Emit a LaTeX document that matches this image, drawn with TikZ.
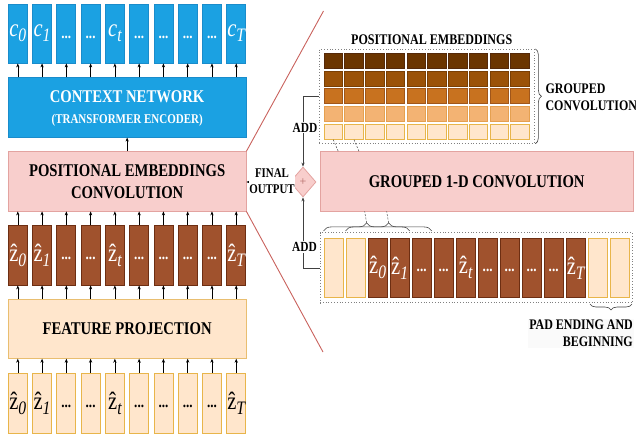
\documentclass[tikz,border=0pt]{standalone}
\usepackage{fontspec}
\setmainfont{Liberation Serif}
\newfontfamily\cf[FakeStretch=0.82]{Liberation Serif}
\usetikzlibrary{shapes.geometric,decorations.pathreplacing,arrows.meta,calc}
\definecolor{cblue}{HTML}{1BA1E2}
\definecolor{cblueb}{HTML}{1A8CCB}
\definecolor{cpink}{HTML}{F8CECC}
\definecolor{cpinkb}{HTML}{E3A3A0}
\definecolor{cbrown}{HTML}{A0522D}
\definecolor{cbrownb}{HTML}{6D2E12}
\definecolor{cpeach}{HTML}{FFE6CC}
\definecolor{cpeachb}{HTML}{E8B54A}
\definecolor{cfpb}{HTML}{E9BE70}
\definecolor{cline}{HTML}{C9625D}
\definecolor{rA}{HTML}{6B3500}\definecolor{rAb}{HTML}{55290A}
\definecolor{rB}{HTML}{9B5208}\definecolor{rBb}{HTML}{7A3F04}
\definecolor{rC}{HTML}{C8721F}\definecolor{rCb}{HTML}{A0561A}
\definecolor{rD}{HTML}{F3B373}\definecolor{rDb}{HTML}{E5A050}
\definecolor{rE}{HTML}{FFE6CC}\definecolor{rEb}{HTML}{E8B54A}
\newcommand\fs[1]{\fontsize{#1}{#1}\selectfont}
\newcommand\clab[1]{{\cf\fs{25}\itshape c\raisebox{-0.2em}{\fs{19}#1}}}
\newcommand\zlab[1]{{\cf\fs{25}\^{z}\raisebox{-0.2em}{\fs{19}\itshape #1}}}
\newcommand\dts{{\cf\bfseries\fs{16}...}}
\tikzset{
  colbox/.style={draw, line width=0.8pt, inner sep=0pt, minimum width=19pt, minimum height=59pt},
  cbox/.style={colbox, fill=cblue, draw=cblueb, text=white},
  dbox/.style={colbox, fill=cbrown, draw=cbrownb, text=white, minimum height=60pt},
  lbox/.style={colbox, fill=cpeach, draw=cpeachb},
  bigbox/.style={draw, line width=0.8pt, inner sep=0pt, minimum width=237.7pt, minimum height=59.3pt},
  ttl/.style={font=\cf\bfseries\fontsize{17.9}{22}\selectfont, align=center},
  arr/.style={-{Stealth[length=4pt,width=3.2pt]}, line width=0.6pt, black},
  gcell/.style={draw, line width=0.8pt, inner sep=0pt, minimum width=18.5pt, minimum height=15pt},
  frm/.style={draw=gray, dotted, line width=0.8pt, inner sep=0pt},
  brc/.style={decorate, decoration={brace, amplitude=#1}, line width=0.6pt, draw=black!75},
  brc/.default=7pt,
  dsh/.style={dashed, line width=0.5pt, draw=black!70, dash pattern=on 2pt off 1.5pt},
  conn/.style={line width=0.6pt, draw=black!75},
  redline/.style={line width=0.9pt, draw=cline},
  addl/.style={font=\cf\bfseries\fs{13.9}, fill=white, inner sep=1pt},
  sm/.style={font=\cf\bfseries\fontsize{14.6}{17}\selectfont}
}
\begin{document}
\begin{tikzpicture}[x=1pt,y=-1pt]
\useasboundingbox (0,0) rectangle (636,437);
% zoom lines
\coordinate (zt) at (323.5,11);
\coordinate (zbt) at (323,352);
% left column boxes
\node[bigbox, fill=cblue, draw=cblueb] (ctxbox) at (127.15,107.5) {};
\node[font=\cf\bfseries\fs{17.9}, text=white] (ctxt1) at (127.15,96.7) {CONTEXT NETWORK};
\node[font=\cf\bfseries\fs{13.4}, text=white] (ctxt2) at (127.15,120) {(TRANSFORMER ENCODER)};
\node[bigbox, fill=cpink, draw=cpinkb, ttl] (pec) at (127.15,181.35) {POSITIONAL EMBEDDINGS\\CONVOLUTION};
\node[bigbox, fill=cpeach, draw=cfpb, ttl, minimum height=59pt] (fp) at (127.15,328.8) {FEATURE PROJECTION};
\draw[redline] (pec.north east) -- (zt);
\draw[redline] (pec.south east) -- (zbt);
\foreach \i in {0,...,9}{
  \node[cbox] (c\i) at ({17.8+24.27*\i},33.5) {};
  \node[dbox] (zd\i) at ({17.8+24.27*\i},255) {};
  \node[lbox, minimum height=59.7pt] (zb\i) at ({17.8+24.27*\i},403.2) {};
  \draw[arr] (c\i |- ctxbox.north) -- (c\i.south);
  \draw[arr] (zd\i.north) -- (zd\i |- pec.south);
  \draw[arr] (zb\i.north) -- (zb\i |- fp.south);
  \draw[arr] (zd\i |- fp.north) -- (zd\i.south);
}
\draw[arr] (pec.north -| ctxt1) -- (ctxt1 |- ctxbox.south);
\foreach \i/\s in {0/0,1/1,4/t,9/T}{
  \node[text=white, inner sep=0pt] (cl\i) at (c\i) {\clab{\s}};
  \node[text=white, inner sep=0pt] (zl\i) at (zd\i) {\zlab{\s}};
  \node[inner sep=0pt] (bl\i) at (zb\i) {\zlab{\s}};
}
\foreach \i in {2,3,5,6,7,8}{
  \node[text=white, inner sep=0pt] (cd\i) at ($(c\i)+(0,4)$) {\dts};
  \node[text=white, inner sep=0pt] (zdd\i) at ($(zd\i)+(0,3.5)$) {\dts};
  \node[inner sep=0pt] (bd\i) at ($(zb\i)+(0,3.5)$) {\dts};
}
% positional embeddings grid
\node[font=\cf\bfseries\fs{14.7}] (pet) at (431.7,40) {POSITIONAL EMBEDDINGS};
\node[frm, minimum width=214.7pt, minimum height=94pt] (pef) at (426.65,96.3) {};
\foreach \r/\fc/\bc in {0/rA/rAb,1/rB/rBb,2/rC/rCb,3/rD/rDb,4/rE/rEb}{
  \foreach \j in {0,...,9}{
    \node[gcell, fill=\fc, draw=\bc] (g\r\j) at ({333.25+20.74*\j},{60.8+17.75*\r}) {};
  }
}
\draw[brc=6pt] ([xshift=1pt]pef.north east) -- ([xshift=1pt]pef.south east);
\node[sm, anchor=west, align=left] (gct) at (542,97.3) {GROUPED\\CONVOLUTION};
% grouped conv
\node[bigbox, fill=cpink, draw=cpinkb, ttl, minimum width=313.3pt] (gconv) at (476.65,181.35) {GROUPED 1-D CONVOLUTION};
\draw[dsh] (g40.south) -- ($(g40.south |- gconv.north)+(5,0)$);
\draw[dsh] (g41.south) -- ($(g41.south |- gconv.north)+(5,0)$);
% lower frame
\node[frm, minimum width=312.3pt, minimum height=70pt] (lf) at (476.15,267.7) {};
\foreach \k in {0,1,12,13}{
  \node[lbox, minimum width=19.3pt] (l\k) at ({333.65+22*\k},267.8) {};
}
\foreach \k in {2,...,11}{
  \node[dbox, minimum width=19.3pt, minimum height=59pt] (l\k) at ({333.65+22*\k},267.8) {};
}
\foreach \k/\s in {2/0,3/1,6/t,11/T}{
  \node[text=white, inner sep=0pt] (ll\k) at (l\k) {\zlab{\s}};
}
\foreach \k in {4,5,7,8,9,10}{
  \node[text=white, inner sep=0pt] (ld\k) at ($(l\k)+(0,2.5)$) {\dts};
}
\draw[brc=8pt] ($(l0.north west)+(0,-7)$) -- ($(l3.north east)+(0,-7)$);
\draw[brc=8pt] ($(l1.north west)+(0,-7)$) -- ($(l4.north east)+(0,-7)$);
\coordinate (bt1) at ($(l0.north west)!0.5!(l3.north east)+(0,-15)$);
\coordinate (bt2) at ($(l1.north west)!0.5!(l4.north east)+(0,-15)$);
\draw[dsh] (bt1) -- ($(bt1 |- gconv.south)+(-2,0)$);
\draw[dsh] (bt2) -- ($(bt2 |- gconv.south)+(-2,0)$);
\draw[brc=6pt] (632,304) -- (590,304);
\node[sm, anchor=east, align=right, fill=gray!4, inner sep=1pt] (pad) at (634,333.6) {PAD ENDING AND\\BEGINNING};
% adder
\node[diamond, draw=cpinkb, fill=cpink, line width=0.8pt, minimum width=26pt, minimum height=30pt, inner sep=0pt, text=cline!70!gray, font=\fs{12}] (plus) at (303,182) {+};
\draw[arr] (plus.west) -- (plus.west -| pec.east);
\node[font=\cf\bfseries\fontsize{13.3}{16}\selectfont, align=center, fill=white, inner sep=0pt] (fo) at (272,181.3) {FINAL\\OUTPUT};
\draw[conn, -{Stealth[length=4pt,width=3.2pt]}] (pef.west |- g20) -| (plus.north);
\draw[conn, -{Stealth[length=4pt,width=3.2pt]}] (lf.west |- l0) -| (plus.south);
\node[addl] (add1) at (305,127.7) {ADD};
\node[addl] (add2) at (304.5,247) {ADD};
\end{tikzpicture}
\end{document}
